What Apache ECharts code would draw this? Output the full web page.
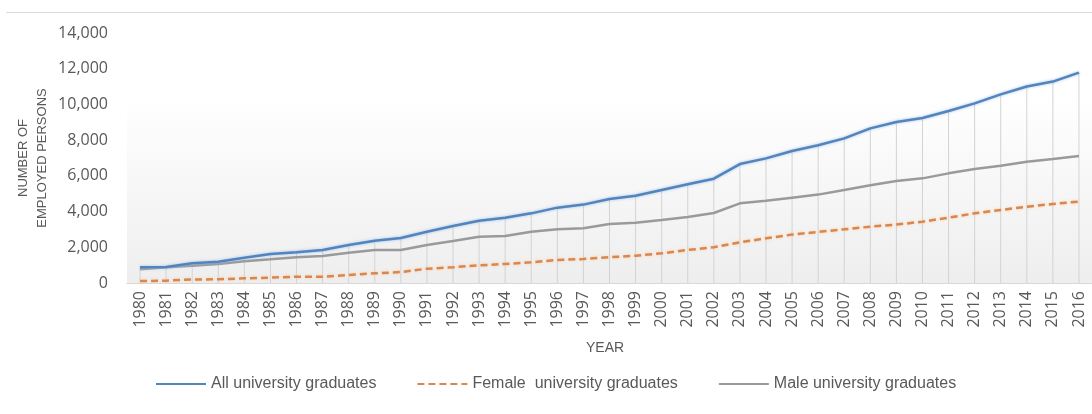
<!DOCTYPE html>
<html>
<head>
<meta charset="utf-8">
<script src="https://cdn.jsdelivr.net/npm/echarts@6/dist/echarts.min.js"></script>
<style>
html,body{margin:0;padding:0;background:#fff;}
#chart{width:1092px;height:414px;}
</style>
</head>
<body>
<div id="chart"></div>
<script>
var years = ['1980','1981','1982','1983','1984','1985','1986','1987','1988','1989','1990','1991','1992','1993','1994','1995','1996','1997','1998','1999','2000','2001','2002','2003','2004','2005','2006','2007','2008','2009','2010','2011','2012','2013','2014','2015','2016'];
var allGrads = [880,900,1100,1195,1420,1620,1720,1850,2130,2370,2520,2875,3190,3490,3660,3900,4220,4390,4700,4890,5210,5525,5840,6660,6980,7390,7710,8100,8660,9020,9240,9630,10060,10565,11000,11280,11780];
var femaleGrads = [110,130,200,205,260,300,355,355,450,540,615,800,880,990,1065,1160,1290,1345,1440,1530,1660,1850,2000,2280,2500,2710,2860,3005,3155,3270,3435,3660,3900,4090,4275,4425,4560];
var maleGrads = [765,880,970,1065,1215,1325,1440,1510,1700,1850,1850,2130,2350,2595,2630,2875,3005,3060,3300,3380,3530,3700,3920,4460,4610,4780,4950,5210,5470,5710,5860,6140,6385,6570,6795,6945,7110];
var yTicks = [0,2000,4000,6000,8000,10000,12000,14000];

var chart = echarts.init(document.getElementById('chart'));
var font = 'Liberation Sans, Arial, sans-serif';
var tickFont = 'Open Sans, Liberation Sans, sans-serif';
chart.setOption({
  animation: false,
  backgroundColor: '#ffffff',
  grid: {
    left: 127, right: -12, top: 33, bottom: 131,
    show: true, borderWidth: 0,
    backgroundColor: new echarts.graphic.LinearGradient(0,0,0,1,[{offset:0,color:'#ffffff'},{offset:0.25,color:'#ffffff'},{offset:1,color:'#eeeeee'}])
  },
  graphic: [
    {type:'line', shape:{x1:6,y1:12.5,x2:1092,y2:12.5}, style:{stroke:'#d9d9d9',lineWidth:1}},
    {type:'text', left: 586, top: 341, style:{text:'YEAR', font:'14px '+font, fill:'#595959'}}
  ],
  legend: {
    data: ['All university graduates','Female  university graduates','Male university graduates'],
    left: 150, top: 371,
    itemWidth: 50, itemHeight: 10, itemGap: 40,
    itemStyle: {opacity: 0},
    textStyle: {fontFamily: font, fontSize: 16, color:'#595959'}
  },
  xAxis: {
    type: 'category',
    data: years,
    boundaryGap: true,
    axisLine: {lineStyle:{color:'#d9d9d9', width:1}},
    axisTick: {show:false},
    axisLabel: {rotate: 90, fontSize: 16, color:'#595959', fontFamily: tickFont, margin: 8, interval: 0},
    splitLine: {show:false}
  },
  yAxis: {
    type: 'value',
    min: 0, max: 14000, interval: 2000,
    name: 'NUMBER OF\nEMPLOYED PERSONS',
    nameLocation: 'middle', nameGap: 75, nameRotate: 90, nameMoveOverlap: false,
    nameTextStyle: {fontSize: 13, color:'#595959', fontFamily: font, lineHeight: 19},
    axisLine: {show:false}, axisTick:{show:false},
    splitLine: {show:false},
    axisLabel: {fontSize: 16, color:'#595959', fontFamily: tickFont, margin: 19,
      formatter: function(v){ return v.toLocaleString('en-US'); }}
  },
  series: [
    {type:'bar', name:'drop', data: allGrads, barWidth: 1, itemStyle:{color:'#d3d3d3'}, silent:true, z:1},
    {type:'line', name:'Male university graduates', data: maleGrads, symbol:'none',
      lineStyle:{color:'#9a9a9a', width:2.5}, itemStyle:{color:'#9a9a9a'}, z:3},
    {type:'line', name:'Female  university graduates', data: femaleGrads, symbol:'none',
      lineStyle:{color:'#d9874f', width:2.5, type:[7,4], shadowColor:'rgba(255,200,150,0.8)', shadowBlur:3}, itemStyle:{color:'#d9874f'}, z:4},
    {type:'line', name:'All university graduates', data: allGrads, symbol:'none',
      lineStyle:{color:'#5484bc', width:2.5, shadowColor:'rgba(150,190,235,0.9)', shadowBlur:3}, itemStyle:{color:'#5484bc'}, z:5}
  ]
});
</script>
</body>
</html>
